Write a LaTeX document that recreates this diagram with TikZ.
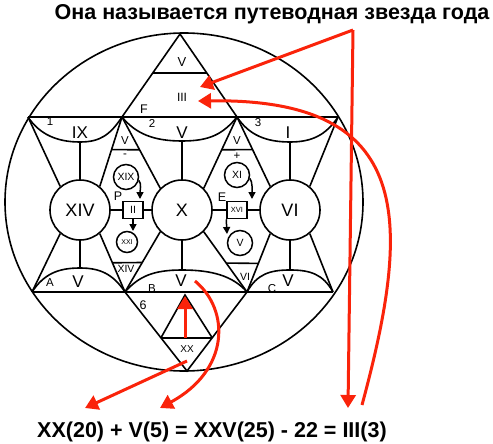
\documentclass[tikz,border=0pt]{standalone}
\usepackage{fontspec}
\setmainfont{Liberation Sans}
\usetikzlibrary{arrows.meta,calc}
\definecolor{starred}{RGB}{250,35,10}

\begin{document}
\begin{tikzpicture}[
  x=1pt, y=-1pt,
  e/.style={line width=1.6pt},
  big/.style={circle, draw, line width=1.6pt, minimum size=60pt, inner sep=0pt, font=\fontsize{18}{18}\selectfont},
  sm/.style={circle, draw, line width=1.5pt, minimum size=25pt, inner sep=0pt, font=\fontsize{10.5}{10.5}\selectfont},
  bx/.style={rectangle, draw, line width=1.5pt, minimum width=20pt, minimum height=17pt, inner sep=0pt, font=\fontsize{10.5}{10.5}\selectfont},
  lb/.style={inner sep=0pt, font=\fontsize{11.5}{11.5}\selectfont},
  al/.style={inner sep=0pt, font=\fontsize{17}{17}\selectfont},
  blk/.style={line width=1.5pt, -{Triangle[length=7pt,width=7pt]}},
  redarr/.style={starred, line width=3pt, -{Triangle[length=13pt,width=15pt]}},
  title/.style={inner sep=0pt, font=\bfseries\fontsize{21.5}{21.5}\selectfont}
]
\useasboundingbox (0,0) rectangle (493,444);

% --- frame ---
\draw[e] (184,202) ellipse [x radius=179, y radius=169];

% --- corner points ---
\coordinate (top) at (180,34);
\coordinate (t1) at (28,117);
\coordinate (t2) at (122,117);
\coordinate (t3) at (237,117);
\coordinate (t4) at (338,117);
\coordinate (b1) at (32,292);
\coordinate (b2) at (125,292);
\coordinate (b3) at (247,292);
\coordinate (b4) at (333,292);
\coordinate (bot) at (187,371);
\coordinate (a1) at (80,142);
\coordinate (a2) at (182,141);
\coordinate (a3) at (290,142);
\coordinate (c1) at (80,268);
\coordinate (c2) at (182,270);
\coordinate (c3) at (290,270);

% --- big circles ---
\node[big] (XIV) at (80,210) {XIV};
\node[big] (X) at (182,210) {X};
\node[big] (VI) at (290,210) {VI};

% --- horizontal lines ---
\draw[e] (t1) -- (t4);
\draw[e] (b1) -- (b4);

% top triangle
\draw[e] (t2) -- (top) -- (t3);
\draw[e] ($(top)!0.47!(t2)$) -- ($(top)!0.47!(t3)$);

% bottom triangle
\draw[e] (b2) -- (bot) -- (b3);
\coordinate (i1) at ($(b2)!0.58!(bot)$);
\coordinate (i2) at ($(b3)!0.58!(bot)$);
\coordinate (ia) at (185,295);
\draw[e] (i1) -- (i2);
\draw[e] (i1) -- (ia) -- (i2);

% --- arcs ---
\draw[e] (t1) .. controls +(12,18) and +(-22,0) .. (a1) .. controls +(20,0) and +(-12,18) .. (t2);
\draw[e] (t2) .. controls +(14,17) and +(-28,0) .. (a2) .. controls +(28,0) and +(-14,17) .. (t3);
\draw[e] (t3) .. controls +(12,18) and +(-24,0) .. (a3) .. controls +(22,0) and +(-12,18) .. (t4);
\draw[e] (b1) .. controls +(12,-18) and +(-22,0) .. (c1) .. controls +(20,0) and +(-12,-18) .. (b2);
\draw[e] (b2) .. controls +(14,-16) and +(-28,0) .. (c2) .. controls +(30,0) and +(-14,-16) .. (b3);
\draw[e] (b3) .. controls +(10,-18) and +(-20,0) .. (c3) .. controls +(20,0) and +(-10,-18) .. (b4);

% --- spokes ---
\draw[e] (t1) -- (XIV.130);
\draw[e] (t2) -- (XIV.50);
\draw[e] (b1) -- (XIV.230);
\draw[e] (b2) -- (XIV.310);
\draw[e] (t2) -- (X.135);
\draw[e] (t3) -- (X.45);
\draw[e] (b2) -- (X.225);
\draw[e] (b3) -- (X.315);
\draw[e] (t3) -- (VI.130);
\draw[e] (t4) -- (VI.50);
\draw[e] (b3) -- (VI.230);
\draw[e] (b4) -- (VI.310);
\draw[e] (a1) -- (XIV);
\draw[e] (a2) -- (X);
\draw[e] (a3) -- (VI);
\draw[e] (c1) -- (XIV);
\draw[e] (c2) -- (X);
\draw[e] (c3) -- (VI);

% small triangles
\draw[e] ($(t2)!0.47!(XIV.50)$) -- ($(t2)!0.46!(X.135)$);
\draw[e] ($(t3)!0.46!(X.45)$) -- ($(t3)!0.47!(VI.130)$);
\draw[e] ($(b2)!0.5!(XIV.310)$) -- ($(b2)!0.49!(X.225)$);
\draw[e] ($(b3)!0.48!(X.315)$) -- ($(b3)!0.49!(VI.230)$);

% --- left inner column ---
\node[sm] (XIX) at (126,177) {XIX};
\node[bx] (II) at (133,210) {II};
\node[sm, minimum size=21pt, font=\fontsize{7}{7}\selectfont] (XXI) at (127,242) {XXI};
\draw[e] (XIV) -- (II);
\draw[e] (II) -- (X);
\coordinate (k1) at (140,199);
\coordinate (k2) at (133,231);
\draw[blk] (XIX.-15) .. controls +(3,3) and +(0,-8) .. (k1);
\draw[blk] (II.south) -- (k2);

% --- right inner column ---
\node[sm] (XI) at (237,175) {XI};
\node[bx, font=\fontsize{7.5}{7.5}\selectfont] (XVI) at (237,210) {XVI};
\node[sm] (V5) at (240,243) {V};
\draw[e] (X) -- (XVI);
\draw[e] (XVI) -- (VI);
\coordinate (k3) at (252,199);
\coordinate (k4) at (227,234);
\draw[blk] (XI.-15) .. controls +(3,3) and +(0,-8) .. (k3);
\draw[blk] (XVI.south west) -- (k4);

% --- labels ---
\node[lb, font=\fontsize{13}{13}\selectfont] (lV0) at (182,62) {V};
\node[lb, font=\fontsize{12}{12}\selectfont] (lIII) at (182,97) {III};
\node[lb, font=\fontsize{12.5}{12.5}\selectfont] (lF) at (144,109) {F};
\node[lb] (l1) at (50,122) {1};
\node[lb] (l2) at (152,123) {2};
\node[lb] (l3) at (258,123) {3};
\node[al] (lIX) at (80,133) {IX};
\node[al] (lVt) at (182,133) {V};
\node[al] (lI) at (288,133) {I};
\node[lb] (lVa) at (125,141) {V};
\node[lb] (lVb) at (237,141) {V};
\node[lb] (lminus) at (125,156) {-};
\node[lb] (lplus) at (237,156) {+};
\node[lb, font=\fontsize{12.5}{12.5}\selectfont] (lP) at (118,196) {P};
\node[lb, font=\fontsize{12.5}{12.5}\selectfont] (lE) at (222,197) {E};
\node[lb, font=\fontsize{10.5}{10.5}\selectfont] (lXIV) at (126,269) {XIV};
\node[lb, font=\fontsize{10.5}{10.5}\selectfont] (lVI) at (245,277) {VI};
\node[lb] (lA) at (50,283) {A};
\node[al] (lVA) at (78,282) {V};
\node[lb] (lB) at (152,289) {B};
\node[al] (lVB) at (181,281) {V};
\node[lb] (lC) at (272,289) {C};
\node[al] (lVC) at (288,281) {V};
\node[lb, font=\fontsize{12.5}{12.5}\selectfont] (l6) at (143,305) {6};
\node[lb, font=\fontsize{10}{10}\selectfont] (lXX) at (187,349) {XX};

% --- texts ---
\node[title] (head) at (272,14) {Она называется путеводная звезда года};
\node[title] (sum) at (212,432) {XX(20) + V(5) = XXV(25) - 22 = III(3)};

% --- red arrows ---
\coordinate (src) at (353,30);
\coordinate (h1) at (200,87);
\coordinate (h2) at (348,408);
\coordinate (q0) at (362,405);
\coordinate (q1) at (198,101);
\coordinate (x0) at (187,361);
\coordinate (x1) at (85,408);
\coordinate (v0) at (195,281);
\coordinate (v1) at (160,408);
\coordinate (u0) at (185,338);
\coordinate (u1) at (185,296);
\draw[redarr] (src) -- (h1);
\draw[redarr] (src) -- (h2);
\draw[redarr] (q0) .. controls (412,220) and (415,98) .. (q1);
\draw[redarr] (x0) -- (x1);
\draw[redarr] (v0) .. controls (230,310) and (230,370) .. (v1);
\draw[redarr] (u0) -- (u1);

\end{tikzpicture}
\end{document}
